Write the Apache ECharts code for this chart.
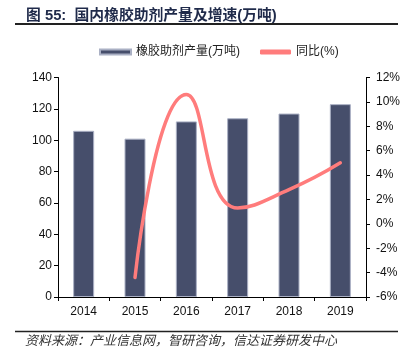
<!DOCTYPE html>
<html>
<head>
<meta charset="utf-8">
<script src="https://cdn.jsdelivr.net/npm/echarts@6/dist/echarts.min.js"></script>
<style>
html,body{margin:0;padding:0;background:#fff;}
#chart{width:405px;height:355px;}
</style>
</head>
<body>
<div id="chart"></div>
<script>
var categories = ['2014', '2015', '2016', '2017', '2018', '2019'];
var outputValues = [106, 101, 112, 114, 117, 123];
var growthValues = [null, -4.4, 10.6, 1.3, 2.8, 5.0];
var leftTicks = [0, 20, 40, 60, 80, 100, 120, 140];
var rightTicks = [-6, -4, -2, 0, 2, 4, 6, 8, 10, 12];
var titleText = '图 55:  国内橡胶助剂产量及增速(万吨)';
var sourceText = '资料来源：产业信息网，智研咨询，信达证券研发中心';
var seriesNames = ['橡胶助剂产量(万吨)', '同比(%)'];

var font = '"Liberation Sans", Arial, "Noto Sans CJK SC", sans-serif';
var chart = echarts.init(document.getElementById('chart'), null, {renderer: 'canvas'});
chart.setOption({
  backgroundColor: '#fff',
  animation: false,
  title: {
    text: titleText,
    left: 21, top: 4,
    textStyle: {fontFamily: '"Liberation Sans", "Noto Sans CJK SC", sans-serif', fontSize: 14.8, fontWeight: 'bold', color: '#1f2a4a'}
  },
  graphic: [
    {type: 'line', shape: {x1: 15, y1: 24, x2: 398, y2: 24}, style: {stroke: '#222', lineWidth: 2}},
    {type: 'line', shape: {x1: 15, y1: 331.5, x2: 398, y2: 331.5}, style: {stroke: '#222', lineWidth: 1.5}},
    {type: 'text', left: 25, top: 334, style: {text: sourceText, font: 'italic 13px "Noto Sans CJK SC", sans-serif', fill: '#333'}}
  ],
  legend: {
    top: 46, left: 99,
    padding: 0,
    itemGap: 20,
    itemWidth: 31, itemHeight: 5,
    textStyle: {fontFamily: font, fontSize: 12, color: '#222'},
    data: [
      {name: seriesNames[0], icon: 'rect'},
      {name: seriesNames[1], icon: 'roundRect', itemStyle: {color: '#ff7c7c'}}
    ]
  },
  grid: {left: 58, right: 39, top: 77.5, bottom: 58},
  xAxis: {
    type: 'category',
    data: categories,
    axisLine: {lineStyle: {color: '#000', width: 1}},
    axisTick: {show: true, length: 4, lineStyle: {color: '#000'}},
    axisLabel: {fontFamily: font, fontSize: 12, color: '#111', margin: 9}
  },
  yAxis: [
    {
      type: 'value', min: leftTicks[0], max: leftTicks[leftTicks.length - 1], interval: 20,
      axisLine: {show: true, lineStyle: {color: '#000'}},
      axisTick: {show: true, length: 4, lineStyle: {color: '#000'}},
      splitLine: {show: false},
      axisLabel: {fontFamily: font, fontSize: 12, color: '#111', margin: 6}
    },
    {
      type: 'value', min: rightTicks[0], max: rightTicks[rightTicks.length - 1], interval: 2,
      position: 'right',
      axisLine: {show: true, lineStyle: {color: '#000'}},
      axisTick: {show: true, length: 4, lineStyle: {color: '#000'}},
      splitLine: {show: false},
      axisLabel: {fontFamily: font, fontSize: 12, color: '#111', margin: 10, formatter: '{value}%'}
    }
  ],
  series: [
    {
      name: seriesNames[0], type: 'bar', data: outputValues, yAxisIndex: 0,
      barWidth: 21,
      itemStyle: {color: '#464e6b', borderColor: '#aab0c4', borderWidth: 1}
    },
    {
      name: seriesNames[1], type: 'line', data: growthValues, yAxisIndex: 1,
      smooth: 0.5, showSymbol: false, symbol: 'none',
      lineStyle: {color: '#ff7c7c', width: 3.5, cap: 'round'},
      itemStyle: {color: '#ff7c7c'}
    }
  ]
});
</script>
</body>
</html>
